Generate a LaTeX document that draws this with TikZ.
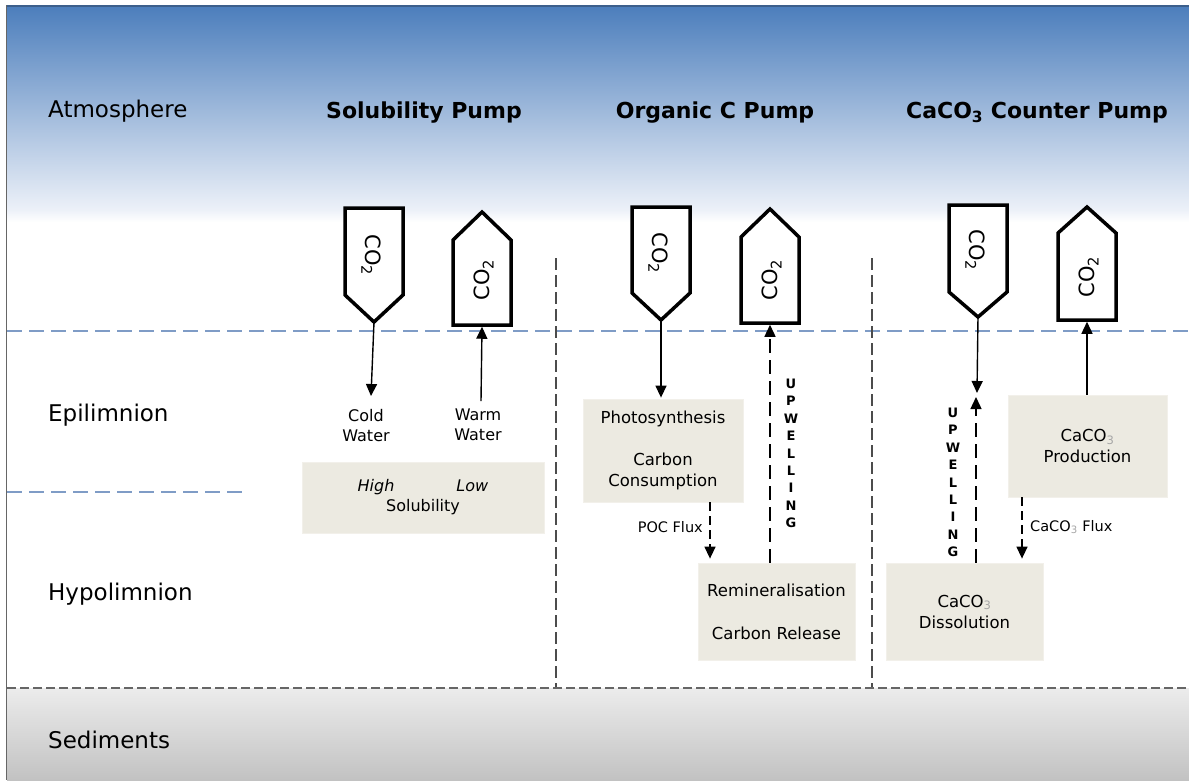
\documentclass[tikz,border=0pt]{standalone}
\usepackage{fontspec}
\setmainfont{DejaVu Sans}
\usetikzlibrary{arrows.meta}
\definecolor{skyblue}{RGB}{76,126,188}
\definecolor{skylow}{RGB}{238,242,249}
\definecolor{lineblue}{RGB}{127,156,198}
\definecolor{boxfill}{RGB}{236,234,225}
\definecolor{sedtop}{RGB}{236,236,236}
\definecolor{sedbot}{RGB}{194,194,194}
\definecolor{topedge}{RGB}{60,95,140}
\begin{document}
\begin{tikzpicture}[x=1pt,y=-1pt,
  lbl/.style={anchor=base west, inner sep=0, font=\fontsize{23}{28}\selectfont},
  hdr/.style={anchor=base, inner sep=0, font=\bfseries\fontsize{22}{26}\selectfont},
  pent/.style={draw=black, line width=3.5pt, fill=white, line join=miter},
  co2/.style={inner sep=0, font=\fontsize{21}{24}\selectfont},
  box/.style={fill=boxfill, draw=boxfill!70!white, line width=0.8pt, inner sep=0, align=center, font=\fontsize{16.5}{21}\selectfont},
  small/.style={inner sep=0, align=center, font=\fontsize{16}{20}\selectfont},
  upw/.style={inner sep=0, align=center, font=\bfseries\fontsize{13}{17.4}\selectfont},
  fluxlbl/.style={inner sep=0, font=\fontsize{14.5}{16}\selectfont},
  arr/.style={line width=1.4pt, -{Triangle[length=12pt,width=11pt]}},
  dasharr/.style={arr, dash pattern=on 14pt off 7pt},
  fluxarr/.style={arr, dash pattern=on 9pt off 5pt, shorten >=4pt},
  bluedash/.style={draw=lineblue, line width=2pt, dash pattern=on 15pt off 7pt},
  seddash/.style={draw=black!60, line width=2.5pt, dash pattern=on 9pt off 4pt},
  divider/.style={draw=black!70, line width=1.5pt, dash pattern=on 12pt off 5pt}
]
\useasboundingbox (0,0) rectangle (1189,780);
% backgrounds
\fill[white] (0,0) rectangle (1189,780);
\shade[top color=skyblue, bottom color=skylow] (7,6) rectangle (1189,212);
\shade[top color=skylow, bottom color=white] (7,211) rectangle (1189,222);
\shade[top color=sedtop, bottom color=sedbot] (7,688) rectangle (1189,780);
\draw[topedge, line width=2pt] (6,6) -- (1189,6);
\draw[black!60, line width=1.5pt] (6.5,5) -- (6.5,780);
% layer lines
\draw[bluedash] (7,331) -- (1189,331);
\draw[bluedash] (7,491.5) -- (245,491.5);
\draw[divider] (556,258) -- (556,688);
\draw[divider] (872,258) -- (872,688);
\draw[seddash] (7,688) -- (1189,688);
% region labels
\node[lbl] (atm) at (48,117) {Atmosphere};
\node[lbl] (epi) at (48,421) {Epilimnion};
\node[lbl] (hypo) at (48,600) {Hypolimnion};
\node[lbl] (sed) at (48,748) {Sediments};
% headers
\node[hdr] (h1) at (424,118) {Solubility Pump};
\node[hdr] (h2) at (715,118) {Organic C Pump};
\node[hdr] (h3) at (1037,118) {CaCO\textsubscript{3} Counter Pump};
% pentagons
\draw[pent] (345,208) -- (403,208) -- (403,295) -- (374,322) -- (345,295) -- cycle;
\coordinate (s1tip) at (374,322);
\node[co2, rotate=-90] (s1co2) at (371,255) {CO\textsubscript{2}};
\draw[pent] (453,325) -- (453,240) -- (482,212) -- (511,240) -- (511,325) -- cycle;
\coordinate (s2b) at (482,325);
\node[co2, rotate=90] (s2co2) at (484,280) {CO\textsubscript{2}};
\draw[pent] (632,207) -- (690,207) -- (690,293) -- (661,320) -- (632,293) -- cycle;
\coordinate (o1tip) at (661,320);
\node[co2, rotate=-90] (o1co2) at (658,253) {CO\textsubscript{2}};
\draw[pent] (741,323) -- (741,237) -- (770,209) -- (799,237) -- (799,323) -- cycle;
\coordinate (o2b) at (770,323);
\node[co2, rotate=90] (o2co2) at (772,280) {CO\textsubscript{2}};
\draw[pent] (949,205) -- (1007,205) -- (1007,292) -- (978,317) -- (949,292) -- cycle;
\coordinate (c1tip) at (978,317);
\node[co2, rotate=-90] (c1co2) at (975,250) {CO\textsubscript{2}};
\draw[pent] (1058,320) -- (1058,233) -- (1087,207) -- (1116,233) -- (1116,320) -- cycle;
\coordinate (c2b) at (1087,320);
\node[co2, rotate=90] (c2co2) at (1089,277) {CO\textsubscript{2}};
% solubility pump
\node[small, anchor=north] (coldw) at (366,409) {Cold\\Water};
\node[small, anchor=north] (warmw) at (478,409) {Warm\\Water};
\node[box, minimum width=242pt, minimum height=71pt, font=\fontsize{16}{20}\selectfont] (solbox) at (423,497.5) {\textit{High}\hspace{62pt}\textit{Low}\\Solubility};
\coordinate (coldend) at (371,396);
\draw[arr] (s1tip) -- (coldend);
\coordinate (warmstart) at (481,401);
\draw[arr] (warmstart) -- ([yshift=-1.75pt]s2b);
% organic C pump
\node[box, minimum width=160pt, minimum height=103pt] (photo) at (663,450.5) {Photosynthesis\\[21pt]Carbon\\Consumption};
\node[box, minimum width=157pt, minimum height=97pt] (rem) at (776.5,611.5) {Remineralisation\\[22pt]Carbon Release};
\draw[arr, shorten >=1pt] (o1tip) -- (photo.north -| o1tip);
\draw[dasharr] (rem.north -| o2b) -- ([yshift=-1.75pt]o2b);
\coordinate (pfx) at (710,530);
\draw[fluxarr] (photo.south -| pfx) -- (rem.north -| pfx);
\node[fluxlbl, anchor=east] (poc) at (703,527) {POC Flux};
\node[upw] (up1) at (791,453.5) {U\\P\\W\\E\\L\\L\\I\\N\\G};
% CaCO3 counter pump
\node[box, minimum width=159pt, minimum height=102pt] (prod) at (1087.5,446) {CaCO\textsubscript{\color{black!35}3}\\Production};
\node[box, minimum width=157pt, minimum height=97pt] (diss) at (964.5,611.5) {CaCO\textsubscript{\color{black!35}3}\\Dissolution};
\coordinate (c1end) at (977,393);
\draw[arr] (c1tip) -- (c1end);
\coordinate (c1up) at (976,397);
\draw[dasharr] (diss.north -| c1up) -- (c1up);
\draw[arr] (prod.north -| c2b) -- ([yshift=-1.75pt]c2b);
\coordinate (cfx) at (1022,530);
\draw[fluxarr] (prod.south -| cfx) -- (diss.north -| cfx);
\node[fluxlbl, anchor=west] (cflux) at (1030,527) {CaCO\textsubscript{\color{black!35}3} Flux};
\node[upw] (up2) at (953,482.5) {U\\P\\W\\E\\L\\L\\I\\N\\G};
\end{tikzpicture}
\end{document}
